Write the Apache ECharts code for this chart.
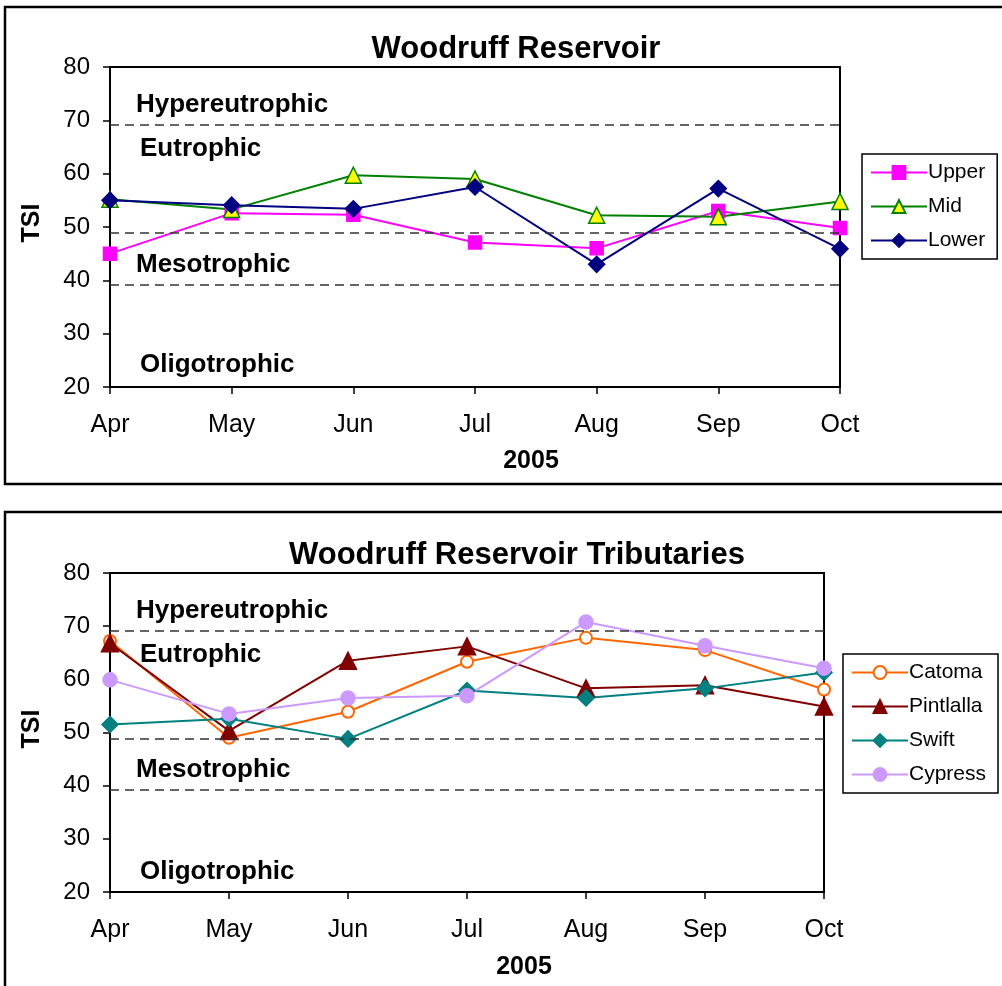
<!DOCTYPE html>
<html>
<head>
<meta charset="utf-8">
<script src="https://cdn.jsdelivr.net/npm/echarts@6/dist/echarts.min.js"></script>
<style>
  html, body { margin: 0; padding: 0; background: #fff; }
  #chart { width: 1002px; height: 986px; }
</style>
</head>
<body>
<div id="chart"></div>
<script>
// Trophic State Index, 2005 monthly samples
const months = ['Apr', 'May', 'Jun', 'Jul', 'Aug', 'Sep', 'Oct'];

// Reservoir stations
const upper = [45.0, 52.6, 52.3, 47.1, 46.0, 53.0, 49.8];
const mid   = [55.2, 53.3, 59.7, 59.0, 52.2, 51.9, 54.8];
const lower = [55.0, 54.1, 53.4, 57.5, 43.0, 57.2, 45.9];

// Tributaries
const catoma    = [67.2, 49.0, 53.9, 63.3, 67.8, 65.5, 58.1];
const pintlalla = [66.8, 50.3, 63.5, 66.2, 58.3, 58.9, 54.9];
const swift     = [51.5, 52.6, 48.8, 57.9, 56.5, 58.3, 61.3];
const cypress   = [59.9, 53.5, 56.5, 56.9, 70.8, 66.3, 62.1];

// Trophic class boundaries and names
const boundaries = [39.2, 48.9, 69.2];
const classNames = ['Hypereutrophic', 'Eutrophic', 'Mesotrophic', 'Oligotrophic'];
const yMin = 20, yMax = 80, yStep = 10;

const FONT = '"Liberation Sans", Arial, sans-serif';

function boundaryLines() {
  return {
    silent: true,
    symbol: 'none',
    label: { show: false },
    lineStyle: { color: '#333', type: [9, 6], width: 1.5 },
    data: boundaries.map(v => ({ yAxis: v }))
  };
}

function lineSeries(name, data, idx, color, symbol, size, fill, withBounds) {
  const s = {
    name, type: 'line', data,
    xAxisIndex: idx, yAxisIndex: idx,
    symbol, symbolSize: size,
    lineStyle: { color, width: 2 },
    itemStyle: symbol === 'emptyCircle'
      ? { color, borderWidth: 2 }
      : { color: fill, borderColor: color, borderWidth: 1.5 },
    emphasis: { disabled: true },
    animation: false
  };
  if (withBounds) s.markLine = boundaryLines();
  return s;
}

function xAxis(idx) {
  return {
    type: 'category', gridIndex: idx, data: months, boundaryGap: false,
    axisLine: { lineStyle: { color: '#000', width: 2 } },
    axisTick: { show: true, inside: false, length: 7, lineStyle: { color: '#000', width: 1.5 } },
    axisLabel: { color: '#000', fontFamily: FONT, fontSize: 25, margin: 26 },
    splitLine: { show: false }
  };
}

function yAxis(idx) {
  return {
    type: 'value', gridIndex: idx, min: yMin, max: yMax, interval: yStep,
    axisLine: { show: true, lineStyle: { color: '#000', width: 2 } },
    axisTick: { show: true, inside: false, length: 7, lineStyle: { color: '#000', width: 1.5 } },
    axisLabel: { color: '#000', fontFamily: FONT, fontSize: 24, margin: 20 },
    splitLine: { show: false }
  };
}

function text(x, y, str, size, extra) {
  return {
    type: 'text', x, y, z: 5,
    style: Object.assign({ text: str, fill: '#000', font: 'bold ' + size + 'px ' + FONT, textVerticalAlign: 'middle' }, extra || {})
  };
}

function classLabels(yHyper, yEu, yMeso, yOligo) {
  return [
    text(136, yHyper, classNames[0], 26),
    text(140, yEu, classNames[1], 26),
    text(136, yMeso, classNames[2], 26),
    text(140, yOligo, classNames[3], 26)
  ];
}

function tsiLabel(cy) {
  const t = text(32, cy, 'TSI', 25, { textAlign: 'center' });
  t.rotation = Math.PI / 2;
  return t;
}

const legendBase = {
  orient: 'vertical', padding: [8, 12, 8, 8], itemGap: 13, itemWidth: 56, itemHeight: 16,
  borderColor: '#000', borderWidth: 1.5, backgroundColor: '#fff',
  textStyle: { fontFamily: FONT, fontSize: 21, color: '#000', padding: [0, 0, 0, -4] },
  selectedMode: false
};

const chart = echarts.init(document.getElementById('chart'), null, { renderer: 'canvas' });

chart.setOption({
  backgroundColor: '#fff',
  animation: false,
  title: [
    { text: 'Woodruff Reservoir', left: 511, top: 44, textAlign: 'center', textVerticalAlign: 'middle',
      textStyle: { fontFamily: FONT, fontSize: 31, fontWeight: 'bold', color: '#000' } },
    { text: 'Woodruff Reservoir Tributaries', left: 512, top: 550, textAlign: 'center', textVerticalAlign: 'middle',
      textStyle: { fontFamily: FONT, fontSize: 31, fontWeight: 'bold', color: '#000' } }
  ],
  grid: [
    { left: 110, top: 67, width: 730, height: 320, show: true, borderColor: '#000', borderWidth: 2, backgroundColor: 'transparent' },
    { left: 110, top: 573, width: 714, height: 319, show: true, borderColor: '#000', borderWidth: 2, backgroundColor: 'transparent' }
  ],
  xAxis: [xAxis(0), xAxis(1)],
  yAxis: [yAxis(0), yAxis(1)],
  legend: [
    Object.assign({}, legendBase, { data: ['Upper', 'Mid', 'Lower'], left: 862, top: 154 }),
    Object.assign({}, legendBase, { data: ['Catoma', 'Pintlalla', 'Swift', 'Cypress'], left: 843, top: 654 })
  ],
  series: [
    lineSeries('Upper', upper, 0, '#FF00FF', 'rect', 13, '#FF00FF', true),
    lineSeries('Mid', mid, 0, '#008000', 'triangle', 16, '#FFFF00', false),
    lineSeries('Lower', lower, 0, '#000080', 'diamond', 16, '#000080', false),
    lineSeries('Catoma', catoma, 1, '#FF6600', 'emptyCircle', 12, '#fff', true),
    lineSeries('Pintlalla', pintlalla, 1, '#800000', 'triangle', 17, '#800000', false),
    lineSeries('Swift', swift, 1, '#008080', 'diamond', 16, '#008080', false),
    lineSeries('Cypress', cypress, 1, '#CC99FF', 'circle', 14, '#CC99FF', false)
  ],
  graphic: [
    // panel frames
    { type: 'rect', shape: { x: 5, y: 7, width: 1100, height: 477 }, style: { fill: 'none', stroke: '#000', lineWidth: 2.5 }, z: 0 },
    { type: 'rect', shape: { x: 5, y: 512, width: 1100, height: 500 }, style: { fill: 'none', stroke: '#000', lineWidth: 2.5 }, z: 0 },
    // axis titles
    tsiLabel(223),
    tsiLabel(729),
    text(531, 461, '2005', 25, { textAlign: 'center' }),
    text(524, 967, '2005', 25, { textAlign: 'center' })
  ]
    .concat(classLabels(105, 149, 265, 365))
    .concat(classLabels(611, 655, 770, 872))
});
</script>
</body>
</html>
